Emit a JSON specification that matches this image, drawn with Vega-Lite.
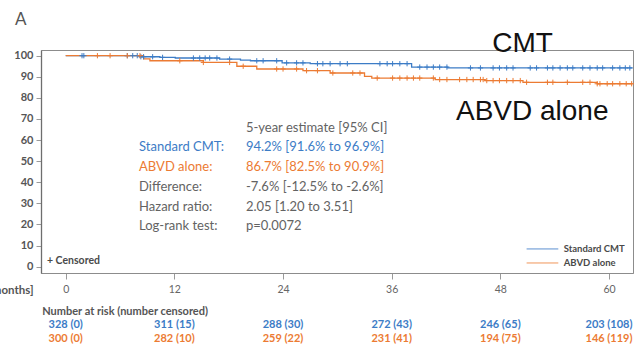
{
  "$schema": "https://vega.github.io/schema/vega-lite/v6.json",
  "width": 592,
  "height": 223,
  "autosize": {"type": "none"},
  "padding": {"left": 41, "top": 50, "right": 1, "bottom": 74},
  "background": "white",
  "config": {
    "font": "Lato",
    "view": {"stroke": "#8c8c8c", "strokeWidth": 1}
  },
  "datasets": {
    "km": [
      {"time": 0, "surv": 100, "group": "Standard CMT"},
      {"time": 8.2, "surv": 99.5, "group": "Standard CMT"},
      {"time": 10.4, "surv": 99.2, "group": "Standard CMT"},
      {"time": 12.1, "surv": 98.9, "group": "Standard CMT"},
      {"time": 17.0, "surv": 98.4, "group": "Standard CMT"},
      {"time": 19.3, "surv": 97.9, "group": "Standard CMT"},
      {"time": 20.4, "surv": 97.6, "group": "Standard CMT"},
      {"time": 23.9, "surv": 96.6, "group": "Standard CMT"},
      {"time": 27.0, "surv": 96.2, "group": "Standard CMT"},
      {"time": 38.2, "surv": 94.6, "group": "Standard CMT"},
      {"time": 42.2, "surv": 94.2, "group": "Standard CMT"},
      {"time": 62.6, "surv": 94.2, "group": "Standard CMT"},
      {"time": 0, "surv": 100, "group": "ABVD alone"},
      {"time": 8.6, "surv": 98.5, "group": "ABVD alone"},
      {"time": 9.3, "surv": 97.6, "group": "ABVD alone"},
      {"time": 15.2, "surv": 96.8, "group": "ABVD alone"},
      {"time": 18.9, "surv": 95.0, "group": "ABVD alone"},
      {"time": 21.1, "surv": 93.7, "group": "ABVD alone"},
      {"time": 26.2, "surv": 92.9, "group": "ABVD alone"},
      {"time": 29.2, "surv": 91.8, "group": "ABVD alone"},
      {"time": 33.0, "surv": 90.2, "group": "ABVD alone"},
      {"time": 33.8, "surv": 89.4, "group": "ABVD alone"},
      {"time": 40.8, "surv": 88.7, "group": "ABVD alone"},
      {"time": 46.3, "surv": 88.2, "group": "ABVD alone"},
      {"time": 50.5, "surv": 87.4, "group": "ABVD alone"},
      {"time": 58.7, "surv": 86.7, "group": "ABVD alone"},
      {"time": 62.6, "surv": 86.7, "group": "ABVD alone"}
    ],
    "censor": [
      {"time": 1.8, "surv": 100, "group": "Standard CMT"},
      {"time": 2.0, "surv": 100, "group": "Standard CMT"},
      {"time": 6.8, "surv": 100, "group": "Standard CMT"},
      {"time": 7.4, "surv": 100, "group": "Standard CMT"},
      {"time": 7.9, "surv": 100, "group": "Standard CMT"},
      {"time": 8.3, "surv": 99.5, "group": "Standard CMT"},
      {"time": 8.6, "surv": 99.5, "group": "Standard CMT"},
      {"time": 9.6, "surv": 99.5, "group": "Standard CMT"},
      {"time": 10.7, "surv": 99.2, "group": "Standard CMT"},
      {"time": 14.1, "surv": 98.9, "group": "Standard CMT"},
      {"time": 14.8, "surv": 98.9, "group": "Standard CMT"},
      {"time": 15.4, "surv": 98.9, "group": "Standard CMT"},
      {"time": 15.9, "surv": 98.9, "group": "Standard CMT"},
      {"time": 16.7, "surv": 98.9, "group": "Standard CMT"},
      {"time": 18.1, "surv": 98.4, "group": "Standard CMT"},
      {"time": 21.1, "surv": 97.6, "group": "Standard CMT"},
      {"time": 21.8, "surv": 97.6, "group": "Standard CMT"},
      {"time": 23.3, "surv": 97.6, "group": "Standard CMT"},
      {"time": 24.4, "surv": 96.6, "group": "Standard CMT"},
      {"time": 25.5, "surv": 96.6, "group": "Standard CMT"},
      {"time": 26.2, "surv": 96.6, "group": "Standard CMT"},
      {"time": 27.8, "surv": 96.2, "group": "Standard CMT"},
      {"time": 28.4, "surv": 96.2, "group": "Standard CMT"},
      {"time": 29.2, "surv": 96.2, "group": "Standard CMT"},
      {"time": 30.3, "surv": 96.2, "group": "Standard CMT"},
      {"time": 31.1, "surv": 96.2, "group": "Standard CMT"},
      {"time": 34.7, "surv": 96.2, "group": "Standard CMT"},
      {"time": 35.5, "surv": 96.2, "group": "Standard CMT"},
      {"time": 36.1, "surv": 96.2, "group": "Standard CMT"},
      {"time": 36.9, "surv": 96.2, "group": "Standard CMT"},
      {"time": 37.7, "surv": 96.2, "group": "Standard CMT"},
      {"time": 39.1, "surv": 94.6, "group": "Standard CMT"},
      {"time": 39.9, "surv": 94.6, "group": "Standard CMT"},
      {"time": 40.6, "surv": 94.6, "group": "Standard CMT"},
      {"time": 41.3, "surv": 94.6, "group": "Standard CMT"},
      {"time": 42.1, "surv": 94.6, "group": "Standard CMT"},
      {"time": 44.7, "surv": 94.2, "group": "Standard CMT"},
      {"time": 45.8, "surv": 94.2, "group": "Standard CMT"},
      {"time": 47.2, "surv": 94.2, "group": "Standard CMT"},
      {"time": 47.9, "surv": 94.2, "group": "Standard CMT"},
      {"time": 48.7, "surv": 94.2, "group": "Standard CMT"},
      {"time": 49.4, "surv": 94.2, "group": "Standard CMT"},
      {"time": 51.3, "surv": 94.2, "group": "Standard CMT"},
      {"time": 52.0, "surv": 94.2, "group": "Standard CMT"},
      {"time": 53.2, "surv": 94.2, "group": "Standard CMT"},
      {"time": 53.8, "surv": 94.2, "group": "Standard CMT"},
      {"time": 54.6, "surv": 94.2, "group": "Standard CMT"},
      {"time": 55.4, "surv": 94.2, "group": "Standard CMT"},
      {"time": 56.0, "surv": 94.2, "group": "Standard CMT"},
      {"time": 57.1, "surv": 94.2, "group": "Standard CMT"},
      {"time": 57.9, "surv": 94.2, "group": "Standard CMT"},
      {"time": 58.7, "surv": 94.2, "group": "Standard CMT"},
      {"time": 59.3, "surv": 94.2, "group": "Standard CMT"},
      {"time": 60.4, "surv": 94.2, "group": "Standard CMT"},
      {"time": 61.2, "surv": 94.2, "group": "Standard CMT"},
      {"time": 61.8, "surv": 94.2, "group": "Standard CMT"},
      {"time": 62.3, "surv": 94.2, "group": "Standard CMT"},
      {"time": 3.5, "surv": 100, "group": "ABVD alone"},
      {"time": 4.9, "surv": 100, "group": "ABVD alone"},
      {"time": 6.8, "surv": 100, "group": "ABVD alone"},
      {"time": 8.2, "surv": 100, "group": "ABVD alone"},
      {"time": 12.6, "surv": 97.6, "group": "ABVD alone"},
      {"time": 15.2, "surv": 96.8, "group": "ABVD alone"},
      {"time": 18.1, "surv": 96.8, "group": "ABVD alone"},
      {"time": 19.6, "surv": 95.0, "group": "ABVD alone"},
      {"time": 23.3, "surv": 93.7, "group": "ABVD alone"},
      {"time": 24.0, "surv": 93.7, "group": "ABVD alone"},
      {"time": 25.5, "surv": 93.7, "group": "ABVD alone"},
      {"time": 26.6, "surv": 92.9, "group": "ABVD alone"},
      {"time": 27.8, "surv": 92.9, "group": "ABVD alone"},
      {"time": 29.5, "surv": 91.8, "group": "ABVD alone"},
      {"time": 31.7, "surv": 91.8, "group": "ABVD alone"},
      {"time": 32.5, "surv": 91.8, "group": "ABVD alone"},
      {"time": 34.4, "surv": 89.4, "group": "ABVD alone"},
      {"time": 36.1, "surv": 89.4, "group": "ABVD alone"},
      {"time": 36.9, "surv": 89.4, "group": "ABVD alone"},
      {"time": 37.7, "surv": 89.4, "group": "ABVD alone"},
      {"time": 38.4, "surv": 89.4, "group": "ABVD alone"},
      {"time": 39.1, "surv": 89.4, "group": "ABVD alone"},
      {"time": 40.6, "surv": 89.4, "group": "ABVD alone"},
      {"time": 41.3, "surv": 88.7, "group": "ABVD alone"},
      {"time": 42.1, "surv": 88.7, "group": "ABVD alone"},
      {"time": 43.5, "surv": 88.7, "group": "ABVD alone"},
      {"time": 44.3, "surv": 88.7, "group": "ABVD alone"},
      {"time": 45.0, "surv": 88.7, "group": "ABVD alone"},
      {"time": 45.8, "surv": 88.7, "group": "ABVD alone"},
      {"time": 46.1, "surv": 88.7, "group": "ABVD alone"},
      {"time": 46.5, "surv": 88.2, "group": "ABVD alone"},
      {"time": 47.2, "surv": 88.2, "group": "ABVD alone"},
      {"time": 47.9, "surv": 88.2, "group": "ABVD alone"},
      {"time": 48.7, "surv": 88.2, "group": "ABVD alone"},
      {"time": 49.4, "surv": 88.2, "group": "ABVD alone"},
      {"time": 50.2, "surv": 88.2, "group": "ABVD alone"},
      {"time": 50.9, "surv": 87.4, "group": "ABVD alone"},
      {"time": 53.2, "surv": 87.4, "group": "ABVD alone"},
      {"time": 53.8, "surv": 87.4, "group": "ABVD alone"},
      {"time": 55.4, "surv": 87.4, "group": "ABVD alone"},
      {"time": 57.1, "surv": 87.4, "group": "ABVD alone"},
      {"time": 57.9, "surv": 87.4, "group": "ABVD alone"},
      {"time": 58.7, "surv": 86.7, "group": "ABVD alone"},
      {"time": 59.0, "surv": 86.7, "group": "ABVD alone"},
      {"time": 59.8, "surv": 86.7, "group": "ABVD alone"},
      {"time": 60.4, "surv": 86.7, "group": "ABVD alone"},
      {"time": 61.2, "surv": 86.7, "group": "ABVD alone"},
      {"time": 61.9, "surv": 86.7, "group": "ABVD alone"},
      {"time": 62.5, "surv": 86.7, "group": "ABVD alone"}
    ],
    "risk": [
      {"time": 0, "group": "Standard CMT", "n": "328 (0)"},
      {"time": 12, "group": "Standard CMT", "n": "311 (15)"},
      {"time": 24, "group": "Standard CMT", "n": "288 (30)"},
      {"time": 36, "group": "Standard CMT", "n": "272 (43)"},
      {"time": 48, "group": "Standard CMT", "n": "246 (65)"},
      {"time": 60, "group": "Standard CMT", "n": "203 (108)"},
      {"time": 0, "group": "ABVD alone", "n": "300 (0)"},
      {"time": 12, "group": "ABVD alone", "n": "282 (10)"},
      {"time": 24, "group": "ABVD alone", "n": "259 (22)"},
      {"time": 36, "group": "ABVD alone", "n": "231 (41)"},
      {"time": 48, "group": "ABVD alone", "n": "194 (75)"},
      {"time": 60, "group": "ABVD alone", "n": "146 (119)"}
    ]
  },
  "encoding": {
    "x": {
      "type": "quantitative",
      "scale": {"domain": [-2.73, 62.65], "nice": false, "zero": false},
      "axis": {
        "values": [0, 12, 24, 36, 48, 60],
        "title": "Time [months]",
        "titleFont": "Lato",
        "titleFontSize": 11.5,
        "titleFontWeight": "bold",
        "titleColor": "#555555",
        "titleAnchor": "start",
        "titleAlign": "right",
        "titleBaseline": "middle",
        "titleX": -8,
        "titleY": 17,
        "grid": false,
        "domainColor": "#8c8c8c",
        "tickColor": "#9a9a9a",
        "tickSize": 6,
        "labelPadding": 5,
        "labelFontSize": 10.5,
        "labelColor": "#666666",
        "labelFont": "Lato"
      }
    },
    "y": {
      "type": "quantitative",
      "scale": {"domain": [-3, 102.7], "nice": false, "zero": false},
      "axis": {
        "values": [0, 10, 20, 30, 40, 50, 60, 70, 80, 90, 100],
        "title": null,
        "grid": false,
        "domainColor": "#6e6e6e",
        "domainWidth": 1.3,
        "tickColor": "#9a9a9a",
        "tickSize": 5,
        "labelPadding": 3,
        "labelFontSize": 11,
        "labelFontWeight": "bold",
        "labelColor": "#555555",
        "labelFont": "Lato"
      }
    }
  },
  "layer": [
    {
      "data": {"name": "km"},
      "mark": {"type": "line", "interpolate": "step-after", "strokeWidth": 1.3},
      "encoding": {
        "x": {"field": "time", "type": "quantitative"},
        "y": {"field": "surv", "type": "quantitative"},
        "color": {
          "field": "group",
          "type": "nominal",
          "scale": {"domain": ["Standard CMT", "ABVD alone"], "range": ["#3c7cc6", "#ec7b33"]},
          "legend": null
        }
      }
    },
    {
      "data": {"name": "censor"},
      "mark": {"type": "point", "shape": "M0,-1L0,1M-1,0L1,0", "size": 28, "filled": false, "strokeWidth": 1, "opacity": 1},
      "encoding": {
        "x": {"field": "time", "type": "quantitative"},
        "y": {"field": "surv", "type": "quantitative"},
        "color": {"field": "group", "type": "nominal", "legend": null}
      }
    },
    {
      "data": {"name": "risk"},
      "transform": [{"filter": "datum.group === 'Standard CMT'"}],
      "mark": {"type": "text", "font": "Lato", "fontSize": 11, "fontWeight": "bold", "align": "center", "baseline": "middle"},
      "encoding": {
        "x": {"field": "time", "type": "quantitative"},
        "y": {"datum": -27.6, "type": "quantitative"},
        "text": {"field": "n"},
        "color": {"field": "group", "type": "nominal", "legend": null}
      }
    },
    {
      "data": {"name": "risk"},
      "transform": [{"filter": "datum.group === 'ABVD alone'"}],
      "mark": {"type": "text", "font": "Lato", "fontSize": 11, "fontWeight": "bold", "align": "center", "baseline": "middle"},
      "encoding": {
        "x": {"field": "time", "type": "quantitative"},
        "y": {"datum": -34.3, "type": "quantitative"},
        "text": {"field": "n"},
        "color": {"field": "group", "type": "nominal", "legend": null}
      }
    },
    {
      "data": {"values": [{}]},
      "mark": {"type": "text", "text": "Number at risk (number censored)", "font": "Lato", "fontSize": 11, "fontWeight": "bold", "color": "#555555", "align": "left", "baseline": "middle"},
      "encoding": {"x": {"datum": -2.6, "type": "quantitative"}, "y": {"datum": -21.5, "type": "quantitative"}}
    },
    {
      "data": {"values": [{}]},
      "mark": {"type": "text", "text": "A", "font": "Lato", "fontSize": 17, "color": "#555555", "align": "left", "baseline": "alphabetic"},
      "encoding": {"x": {"datum": -5.6, "type": "quantitative"}, "y": {"datum": 114.5, "type": "quantitative"}}
    },
    {
      "data": {"values": [{}]},
      "mark": {"type": "text", "text": "CMT", "font": "Liberation Sans", "fontSize": 28, "color": "#111111", "align": "left", "baseline": "alphabetic"},
      "encoding": {"x": {"datum": 47.1, "type": "quantitative"}, "y": {"datum": 101.7, "type": "quantitative"}}
    },
    {
      "data": {"values": [{}]},
      "mark": {"type": "text", "text": "ABVD alone", "font": "Liberation Sans", "fontSize": 28, "color": "#111111", "align": "left", "baseline": "alphabetic"},
      "encoding": {"x": {"datum": 43.1, "type": "quantitative"}, "y": {"datum": 69.5, "type": "quantitative"}}
    },
    {
      "data": {"values": [{}]},
      "mark": {"type": "text", "text": "+ Censored", "font": "Lato", "fontSize": 10.5, "fontWeight": "bold", "color": "#4a4a4a", "align": "left", "baseline": "middle"},
      "encoding": {"x": {"datum": -2.07, "type": "quantitative"}, "y": {"datum": 2.7, "type": "quantitative"}}
    },
    {
      "data": {"values": [{}]},
      "mark": {"type": "text", "text": "5-year estimate [95% CI]", "font": "Lato", "fontSize": 13, "color": "#636363", "align": "left", "baseline": "middle"},
      "encoding": {"x": {"datum": 19.9, "type": "quantitative"}, "y": {"datum": 65.7, "type": "quantitative"}}
    },
    {
      "data": {"values": [{}]},
      "mark": {"type": "text", "text": "Standard CMT:", "font": "Lato", "fontSize": 13, "color": "#3c7cc6", "align": "left", "baseline": "middle"},
      "encoding": {"x": {"datum": 8.1, "type": "quantitative"}, "y": {"datum": 56.7, "type": "quantitative"}}
    },
    {
      "data": {"values": [{}]},
      "mark": {"type": "text", "text": "94.2% [91.6% to 96.9%]", "font": "Lato", "fontSize": 13, "color": "#3c7cc6", "align": "left", "baseline": "middle"},
      "encoding": {"x": {"datum": 19.9, "type": "quantitative"}, "y": {"datum": 56.7, "type": "quantitative"}}
    },
    {
      "data": {"values": [{}]},
      "mark": {"type": "text", "text": "ABVD alone:", "font": "Lato", "fontSize": 13, "color": "#ec7b33", "align": "left", "baseline": "middle"},
      "encoding": {"x": {"datum": 8.1, "type": "quantitative"}, "y": {"datum": 47.3, "type": "quantitative"}}
    },
    {
      "data": {"values": [{}]},
      "mark": {"type": "text", "text": "86.7% [82.5% to 90.9%]", "font": "Lato", "fontSize": 13, "color": "#ec7b33", "align": "left", "baseline": "middle"},
      "encoding": {"x": {"datum": 19.9, "type": "quantitative"}, "y": {"datum": 47.3, "type": "quantitative"}}
    },
    {
      "data": {"values": [{}]},
      "mark": {"type": "text", "text": "Difference:", "font": "Lato", "fontSize": 13, "color": "#636363", "align": "left", "baseline": "middle"},
      "encoding": {"x": {"datum": 8.1, "type": "quantitative"}, "y": {"datum": 37.8, "type": "quantitative"}}
    },
    {
      "data": {"values": [{}]},
      "mark": {"type": "text", "text": "-7.6% [-12.5% to -2.6%]", "font": "Lato", "fontSize": 13, "color": "#636363", "align": "left", "baseline": "middle"},
      "encoding": {"x": {"datum": 19.9, "type": "quantitative"}, "y": {"datum": 37.8, "type": "quantitative"}}
    },
    {
      "data": {"values": [{}]},
      "mark": {"type": "text", "text": "Hazard ratio:", "font": "Lato", "fontSize": 13, "color": "#636363", "align": "left", "baseline": "middle"},
      "encoding": {"x": {"datum": 8.1, "type": "quantitative"}, "y": {"datum": 28.3, "type": "quantitative"}}
    },
    {
      "data": {"values": [{}]},
      "mark": {"type": "text", "text": "2.05 [1.20 to 3.51]", "font": "Lato", "fontSize": 13, "color": "#636363", "align": "left", "baseline": "middle"},
      "encoding": {"x": {"datum": 19.9, "type": "quantitative"}, "y": {"datum": 28.3, "type": "quantitative"}}
    },
    {
      "data": {"values": [{}]},
      "mark": {"type": "text", "text": "Log-rank test:", "font": "Lato", "fontSize": 13, "color": "#636363", "align": "left", "baseline": "middle"},
      "encoding": {"x": {"datum": 8.1, "type": "quantitative"}, "y": {"datum": 19.3, "type": "quantitative"}}
    },
    {
      "data": {"values": [{}]},
      "mark": {"type": "text", "text": "p=0.0072", "font": "Lato", "fontSize": 13, "color": "#636363", "align": "left", "baseline": "middle"},
      "encoding": {"x": {"datum": 19.9, "type": "quantitative"}, "y": {"datum": 19.3, "type": "quantitative"}}
    },
    {
      "data": {"values": [{}]},
      "mark": {"type": "rule", "color": "#5b8fd0", "strokeWidth": 1},
      "encoding": {"x": {"datum": 50.9, "type": "quantitative"}, "x2": {"datum": 54.4}, "y": {"datum": 8.4, "type": "quantitative"}}
    },
    {
      "data": {"values": [{}]},
      "mark": {"type": "rule", "color": "#f0955a", "strokeWidth": 1},
      "encoding": {"x": {"datum": 50.9, "type": "quantitative"}, "x2": {"datum": 54.4}, "y": {"datum": 1.75, "type": "quantitative"}}
    },
    {
      "data": {"values": [{}]},
      "mark": {"type": "text", "text": "Standard CMT", "font": "Lato", "fontSize": 9.5, "fontWeight": "bold", "color": "#4a4a4a", "align": "left", "baseline": "middle"},
      "encoding": {"x": {"datum": 55.0, "type": "quantitative"}, "y": {"datum": 8.4, "type": "quantitative"}}
    },
    {
      "data": {"values": [{}]},
      "mark": {"type": "text", "text": "ABVD alone", "font": "Lato", "fontSize": 9.5, "fontWeight": "bold", "color": "#4a4a4a", "align": "left", "baseline": "middle"},
      "encoding": {"x": {"datum": 55.0, "type": "quantitative"}, "y": {"datum": 1.75, "type": "quantitative"}}
    }
  ]
}
